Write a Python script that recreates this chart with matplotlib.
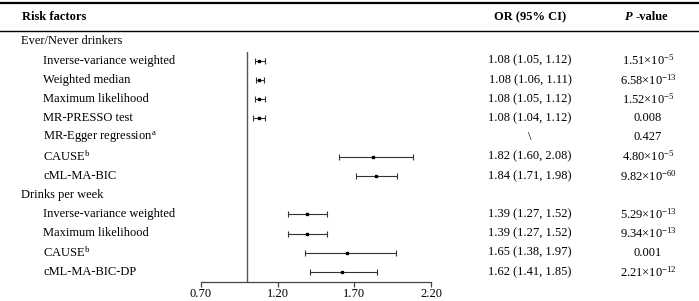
import numpy as np
import matplotlib.pyplot as plt

plt.rcParams['font.family'] = ['Liberation Serif', 'DejaVu Serif']
plt.rcParams['mathtext.fontset'] = 'custom'
plt.rcParams['mathtext.rm'] = 'Liberation Serif'
plt.rcParams['mathtext.it'] = 'Liberation Serif:italic'
plt.rcParams['mathtext.bf'] = 'Liberation Serif:bold'

# rows: group headers have NaN for values
labels = ['Ever/Never drinkers',
          'Inverse-variance weighted', 'Weighted median', 'Maximum likelihood',
          'MR-PRESSO test', r'MR-Egger regression$^{\mathregular{a}}$',
          r'CAUSE$^{\mathregular{b}}$', 'cML-MA-BIC',
          'Drinks per week',
          'Inverse-variance weighted', 'Maximum likelihood',
          r'CAUSE$^{\mathregular{b}}$', 'cML-MA-BIC-DP']
is_group = [True, False, False, False, False, False, False, False,
            True, False, False, False, False]
odds = [np.nan, 1.08, 1.08, 1.08, 1.08, np.nan, 1.82, 1.84,
        np.nan, 1.39, 1.39, 1.65, 1.62]
lower = [np.nan, 1.05, 1.06, 1.05, 1.04, np.nan, 1.60, 1.71,
         np.nan, 1.27, 1.27, 1.38, 1.41]
upper = [np.nan, 1.12, 1.11, 1.12, 1.12, np.nan, 2.08, 1.98,
         np.nan, 1.52, 1.52, 1.97, 1.85]
or_text = ['', '1.08 (1.05, 1.12)', '1.08 (1.06, 1.11)', '1.08 (1.05, 1.12)',
           '1.08 (1.04, 1.12)', '\\', '1.82 (1.60, 2.08)', '1.84 (1.71, 1.98)',
           '', '1.39 (1.27, 1.52)', '1.39 (1.27, 1.52)', '1.65 (1.38, 1.97)',
           '1.62 (1.41, 1.85)']
p_text = ['', r'1.51×10$^{\mathregular{-5}}$', r'6.58×10$^{\mathregular{-13}}$',
          r'1.52×10$^{\mathregular{-5}}$', '0.008', '0.427',
          r'4.80×10$^{\mathregular{-5}}$', r'9.82×10$^{\mathregular{-60}}$', '',
          r'5.29×10$^{\mathregular{-13}}$', r'9.34×10$^{\mathregular{-13}}$',
          '0.001', r'2.21×10$^{\mathregular{-12}}$']
xticks = [0.70, 1.20, 1.70, 2.20]

W, H = 699, 301
fig = plt.figure(figsize=(W / 100, H / 100), dpi=100)

# text layer in pixel coordinates
tx = fig.add_axes([0, 0, 1, 1])
tx.set_xlim(0, W)
tx.set_ylim(H, 0)
tx.axis('off')

row_y = lambda i: 41.5 + 19.2 * i
fs = 9.0

tx.axhline(3, color='black', lw=1.6)
tx.axhline(30.5, color='black', lw=1.0)
tx.text(22, 17, 'Risk factors', fontsize=fs, fontweight='bold', va='center')
tx.text(530, 17, 'OR (95% CI)', fontsize=fs, fontweight='bold', va='center', ha='center')
tx.text(633, 17, 'P', fontsize=fs, fontweight='bold', fontstyle='italic', va='center', ha='right')
tx.text(636, 17, '-value', fontsize=fs, fontweight='bold', va='center', ha='left')

for i, lab in enumerate(labels):
    y = row_y(i)
    tx.text(21 if is_group[i] else 43, y, lab, fontsize=fs, va='center')
    if or_text[i]:
        tx.text(530, y, or_text[i], fontsize=fs, va='center', ha='center')
    if p_text[i]:
        tx.text(648, y, p_text[i], fontsize=fs, va='center', ha='center')

# forest plot axes
y_bot, y_top = 282, 51.7
ax = fig.add_axes([201 / W, (H - y_bot) / H, 230 / W, (y_bot - y_top) / H])
ax.patch.set_alpha(0)
rows = np.arange(len(labels))
odds = np.array(odds)
lower = np.array(lower)
upper = np.array(upper)
ok = ~np.isnan(odds)
ax.errorbar(odds[ok], rows[ok], xerr=[odds[ok] - lower[ok], upper[ok] - odds[ok]],
            fmt='s', ms=2.0, color='black', ecolor='#333333', elinewidth=0.8,
            capsize=2.2, capthick=0.8)
ax.axvline(1.0, color='#555555', lw=1.0)
ax.set_xlim(0.70, 2.20)
ax.set_ylim((y_bot - 41.5) / 19.2, (y_top - 41.5) / 19.2)
ax.set_xticks(xticks)
ax.set_xticklabels(['%.2f' % t for t in xticks], fontsize=fs)
ax.set_yticks([])
for s in ['top', 'right', 'left']:
    ax.spines[s].set_visible(False)
ax.spines['bottom'].set_color('#444444')
ax.spines['bottom'].set_linewidth(0.9)
ax.tick_params(axis='x', direction='out', length=3.5, width=0.9, color='#444444', pad=1)

fig.savefig('out.png', dpi=100)
